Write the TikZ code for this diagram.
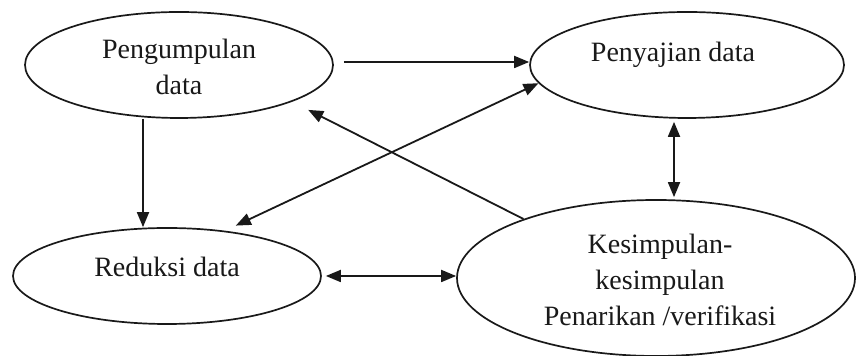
\documentclass[tikz,border=0pt]{standalone}
\usepackage{fontspec}
\setmainfont{Liberation Serif}
\usetikzlibrary{shapes.geometric,arrows.meta}
\begin{document}
\begin{tikzpicture}[x=0.5pt,y=-0.5pt,
  oval/.style={draw=black!90,line width=0.85pt,ellipse,inner sep=0pt},
  lbl/.style={font=\fontsize{14}{18}\selectfont,align=center,text=black!90,inner sep=0pt},
  tip/.tip={Triangle[length=7.5pt,width=6pt]},
  conn/.style={line width=0.9pt,draw=black!90,arrows={-tip}},
  dconn/.style={line width=0.9pt,draw=black!90,arrows={tip-tip}}]
\useasboundingbox (0,0) rectangle (856,356);
\fill[white] (0,0) rectangle (856,356);
\node[oval,minimum width=154pt,minimum height=53pt] (e1) at (179,65) {};
\node[oval,minimum width=157pt,minimum height=53pt] (e2) at (687,65) {};
\node[oval,minimum width=154pt,minimum height=48pt] (e3) at (167,276) {};
\node[oval,minimum width=199pt,minimum height=78pt] (e4) at (656,278) {};
\node[lbl] (t1) at (179,67) {Pengumpulan\\data};
\node[lbl] (t2) at (673,55) {Penyajian data};
\node[lbl] (t3) at (167,267) {Reduksi data};
\node[lbl] (t4) at (660,280) {Kesimpulan-\\kesimpulan\\Penarikan /verifikasi};
% connectors
\draw[conn] ([xshift=5pt,yshift=1.5pt]e1.east) -- ([yshift=1.5pt]e2.west);
\draw[conn] (143,0 |- e1.south) -- (143,0 |- e3.north);
\draw[dconn,shorten >=6pt] (e2.187.7) -- (e3.38.8);
\draw[conn,shorten >=9pt] (e4.156.7) -- (e1.-18.2);
\draw[dconn] ([yshift=-1.5pt]674,0 |- e2.south) -- ([yshift=1pt]674,0 |- e4.north);
\draw[dconn] ([xshift=2pt]e3.east) -- (e3.east -| e4.west);
\end{tikzpicture}
\end{document}
